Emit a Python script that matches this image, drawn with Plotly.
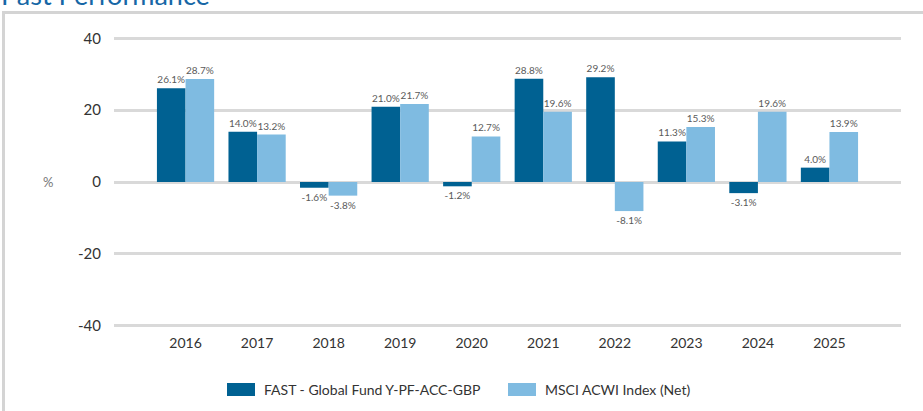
import plotly.graph_objects as go

years = ["2016", "2017", "2018", "2019", "2020", "2021", "2022", "2023", "2024", "2025"]
fund_name = "FAST - Global Fund Y-PF-ACC-GBP"
index_name = "MSCI ACWI Index (Net)"
fund_values = [26.1, 14.0, -1.6, 21.0, -1.2, 28.8, 29.2, 11.3, -3.1, 4.0]
index_values = [28.7, 13.2, -3.8, 21.7, 12.7, 19.6, -8.1, 15.3, 19.6, 13.9]
y_ticks = [-40, -20, 0, 20, 40]
y_tick_labels = ["-40", "-20", "0", "20", "40"]

DARK = "#006192"
LIGHT = "#7fbbe1"
FONT = "Lato"

W, H = 923, 411
ML, MR, MT, MB = 114, 22, 37, 84
PW, PH = W - ML - MR, H - MT - MB

def px_x(x):
    return (x - ML) / PW

def px_y(y):
    return (H - MB - y) / PH

xs = list(range(len(years)))

fig = go.Figure()
for name, vals, col in [(fund_name, fund_values, DARK), (index_name, index_values, LIGHT)]:
    fig.add_trace(go.Bar(
        x=xs, y=vals, name=name, marker=dict(color=col, line=dict(width=0)),
        text=[f"{v:.1f}%" for v in vals], textposition="outside",
        textfont=dict(family=FONT, size=10, color="#5a5a5a"),
        cliponaxis=False, showlegend=False, constraintext="none",
    ))

fig.update_layout(
    width=W, height=H,
    margin=dict(l=ML, r=MR, t=MT, b=MB),
    paper_bgcolor="white", plot_bgcolor="white",
    barmode="group", bargap=0.2, bargroupgap=0,
    font=dict(family=FONT, color="#333333"),
)
fig.update_xaxes(
    range=[-1, len(years)], tickvals=xs, ticktext=years, showgrid=False,
    zeroline=False, showline=False, ticks="",
    tickfont=dict(family=FONT, size=14, color="#333333"), ticklabelstandoff=6,
)
fig.update_yaxes(
    range=[-40.4, 40.4], tickvals=y_ticks, ticktext=y_tick_labels, showgrid=True,
    gridcolor="#d9d9d9", gridwidth=2.5, zeroline=True, zerolinecolor="#d9d9d9",
    zerolinewidth=2.5, showline=False, ticks="",
    tickfont=dict(family=FONT, size=15, color="#333333"), ticklabelstandoff=12,
)

# frame
fig.add_shape(type="rect", xref="paper", yref="paper",
              x0=px_x(3.5), x1=px_x(940), y0=px_y(430), y1=px_y(12.5),
              line=dict(color="#d4d4d4", width=3), fillcolor="rgba(0,0,0,0)", layer="below")

# title (cut off at top, as in the source)
fig.add_annotation(text="Past Performance", xref="paper", yref="paper",
                   x=px_x(-1), y=px_y(-6), xanchor="left", yanchor="middle", showarrow=False,
                   font=dict(family=FONT, size=27, color="#1767a6"))

# y-axis unit
fig.add_annotation(text="%", xref="paper", yref="paper", x=px_x(48), y=px_y(182),
                   xanchor="center", yanchor="middle", showarrow=False,
                   font=dict(family=FONT, size=13, color="#777777"))

# legend
for name, col, x0, tx in [(fund_name, DARK, 227, 262), (index_name, LIGHT, 508, 543)]:
    fig.add_shape(type="rect", xref="paper", yref="paper",
                  x0=px_x(x0), x1=px_x(x0 + 28), y0=px_y(396), y1=px_y(383),
                  line=dict(width=0), fillcolor=col)
    fig.add_annotation(text=name, xref="paper", yref="paper", x=px_x(tx), y=px_y(389),
                       xanchor="left", yanchor="middle", showarrow=False,
                       font=dict(family=FONT, size=14, color="#333333"))

fig.write_html("out.html")
